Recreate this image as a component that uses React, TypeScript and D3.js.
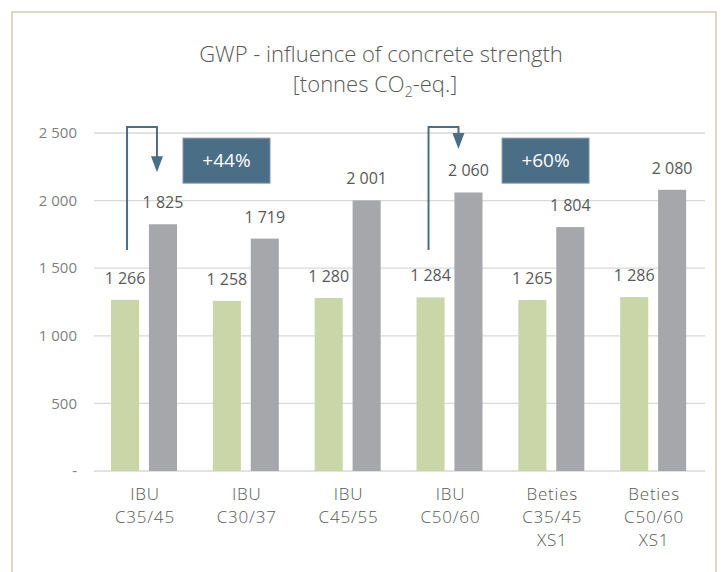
import * as d3 from "d3";

const categories = [
  ["IBU", "C35/45"],
  ["IBU", "C30/37"],
  ["IBU", "C45/55"],
  ["IBU", "C50/60"],
  ["Beties", "C35/45", "XS1"],
  ["Beties", "C50/60", "XS1"],
];
const seriesA = [1266, 1258, 1280, 1284, 1265, 1286];
const seriesB = [1825, 1719, 2001, 2060, 1804, 2080];
const yTicks = [0, 500, 1000, 1500, 2000, 2500];
const annotations = [
  { cat: 0, label: "+44%", tip: 2210, dx: 0, box: 0.874 },
  { cat: 3, label: "+60%", tip: 2382, dx: -4, box: 1.007 },
];

const W = 723;
const H = 572;
const MARGIN = { top: 133, right: 18, bottom: 101, left: 94 };
const FONT = "'Open Sans', sans-serif";
const TEXT = "#595959";
const ACCENT = "#4b6e87";

const fmt = (v: number) => (v === 0 ? "-" : d3.format(",")(v).replace(",", " "));

export default function App() {
  const keys = categories.map((c) => c.join(" "));
  const x0 = d3.scaleBand().domain(keys).range([MARGIN.left, W - MARGIN.right]);
  const bw = x0.bandwidth();
  const x1 = d3
    .scaleBand()
    .domain(["a", "b"])
    .range([bw * 0.167, bw * 0.815])
    .paddingInner(0.26);
  const y = d3.scaleLinear().domain([0, 2500]).range([H - MARGIN.bottom, MARGIN.top]);

  return (
    <svg
      width={W}
      height={H}
      style={{ position: "absolute", left: 0, top: 0, background: "#fff" }}
      fontFamily={FONT}
    >
      {/* frame */}
      <rect x={12} y={12} width={704} height={580} fill="none" stroke="#dcd8c7" strokeWidth={2} />

      <text x={381} y={62} textAnchor="middle" fontSize={22} fontWeight={300} fill={TEXT}>
        GWP - influence of concrete strength
      </text>
      <text x={375} y={92} textAnchor="middle" fontSize={22} fontWeight={300} fill={TEXT}>
        [tonnes CO<tspan fontSize={14} dy={5}>2</tspan>
        <tspan dy={-5}>-eq.]</tspan>
      </text>

      {yTicks.map((t) => (
        <g key={t}>
          <line x1={MARGIN.left} x2={W - MARGIN.right} y1={y(t)} y2={y(t)} stroke="#d9d9d9" strokeWidth={1.3} />
          <text x={77} y={y(t)} dy="0.35em" textAnchor="end" fontSize={15} fill="#7f7f7f">
            {fmt(t)}
          </text>
        </g>
      ))}

      {keys.map((k, i) => {
        const bx = x0(k)!;
        return (
          <g key={k}>
            {[
              { s: "a", v: seriesA[i], c: "#cad6a7" },
              { s: "b", v: seriesB[i], c: "#a6a7ab" },
            ].map((d) => (
              <g key={d.s}>
                <rect
                  x={bx + x1(d.s)!}
                  y={y(d.v)}
                  width={x1.bandwidth()}
                  height={y(0) - y(d.v)}
                  fill={d.c}
                />
                <text
                  x={bx + x1(d.s)! + x1.bandwidth() / 2}
                  y={y(d.v) - 16}
                  textAnchor="middle"
                  fontSize={16}
                  fill={TEXT}
                >
                  {fmt(d.v)}
                </text>
              </g>
            ))}
            {categories[i].map((line, j) => (
              <text
                key={j}
                x={bx + bw / 2}
                y={y(0) + 29 + j * 23}
                textAnchor="middle"
                fontSize={17}
                fontWeight={300}
                letterSpacing={0.8}
                fill={TEXT}
              >
                {line}
              </text>
            ))}
          </g>
        );
      })}

      {annotations.map((a) => {
        const bx = x0(keys[a.cat])!;
        const xs = bx + x1("a")! + x1.bandwidth() / 2 + 2 + a.dx;
        const xe = bx + x1("b")! + x1.bandwidth() / 2 - 6 + a.dx;
        const yStart = y(1635);
        const yTop = y(2545);
        const yTip = y(a.tip);
        const boxX = bx + bw * a.box;
        const boxY = y(2462);
        return (
          <g key={a.label}>
            <path
              d={`M${xs},${yStart}V${yTop}H${xe}V${yTip - 14}`}
              fill="none"
              stroke={ACCENT}
              strokeWidth={2}
            />
            <path d={`M${xe - 6},${yTip - 16}L${xe + 6},${yTip - 16}L${xe},${yTip}Z`} fill={ACCENT} />
            <rect x={boxX} y={boxY} width={87} height={45} fill={ACCENT} stroke="#7f98aa" strokeWidth={1} />
            <text x={boxX + 43.5} y={boxY + 22.5} dy="0.35em" textAnchor="middle" fontSize={19} fill="#fff">
              {a.label}
            </text>
          </g>
        );
      })}
    </svg>
  );
}
